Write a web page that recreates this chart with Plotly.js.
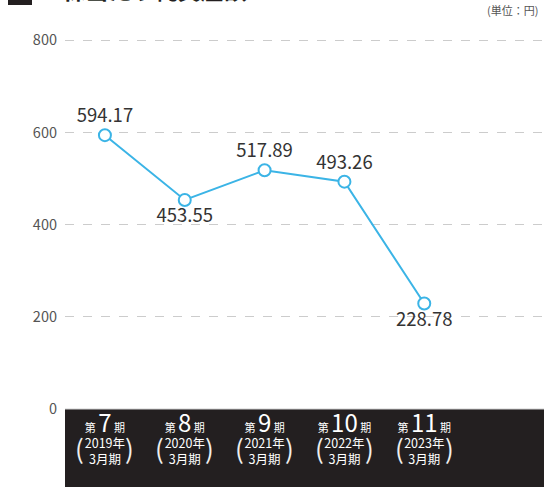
<!DOCTYPE html>
<html><head><meta charset="utf-8">
<script src="https://cdn.plot.ly/plotly-3.0.1.min.js"></script>
<style>body{margin:0;background:#fff}#c{width:544px;height:487px}</style>
</head><body><div id="c"></div>
<script>
const periods = ["7", "8", "9", "10", "11"];
const fiscalYears = ["2019年", "2020年", "2021年", "2022年", "2023年"];
const values = [594.17, 453.55, 517.89, 493.26, 228.78];
const labelPos = ["top center", "bottom center", "top center", "top center", "bottom center"];
const yTicks = [0, 200, 400, 600, 800];

const F = '"Noto Sans CJK JP", "Noto Sans", sans-serif';
const xIdx = periods.map((_, i) => i);
const tickText = periods.map((p, i) =>
  "<span style='font-size:11px'>第 </span><span style='font-size:24px'>" + p + "</span><span style='font-size:11px'> 期</span><br>" + fiscalYears[i] + "<br>3月期");

const W = 544, H = 487, L = 65, T = 38, B = 78;
const YMAX = 805;
const ph = H - T - B;
const y0px = H - B;
const py = y => (y0px - y) / ph;
const px = x => (x - L) / (W - L);

const annotations = [
  {xref:'paper', yref:'paper', x:px(540), y:py(10), xanchor:'right', yanchor:'middle',
   text:'(単位：円)', showarrow:false, font:{family:F, size:11, color:'#555'}},
  {xref:'paper', yref:'paper', x:px(47), y:py(8), xanchor:'left', yanchor:'bottom',
   text:'<b>1株当たり純資産額</b>', showarrow:false, font:{family:F, size:23, color:'#231f20'}}
];
xIdx.forEach(i => {
  annotations.push({xref:'x', yref:'paper', x:i, y:py(447), xanchor:'center', yanchor:'middle',
    xshift:-25, text:'(', showarrow:false, font:{family:F, size:26, color:'#eee'}});
  annotations.push({xref:'x', yref:'paper', x:i, y:py(447), xanchor:'center', yanchor:'middle',
    xshift:25, text:')', showarrow:false, font:{family:F, size:26, color:'#eee'}});
});

const trace = {
  x: xIdx, y: values, type:'scatter', mode:'lines+markers+text',
  text: values.map(v => v.toFixed(2)), textposition: labelPos,
  textfont:{family:F, size:18.5, color:'#333'},
  line:{color:'#3bb4e6', width:2},
  marker:{size:12, color:'#fff', line:{color:'#3bb4e6', width:2}},
  cliponaxis:false, hoverinfo:'skip'
};

const layout = {
  width:W, height:H, margin:{l:L, r:0, t:T, b:B},
  paper_bgcolor:'#fff', plot_bgcolor:'#fff', showlegend:false,
  xaxis:{range:[-0.5, 5.5], tickvals:xIdx, ticktext:tickText, showgrid:false, zeroline:false,
    showline:false, ticks:'', tickfont:{family:F, size:12.5, color:'#fff'}, ticklabelstandoff:9, fixedrange:true},
  yaxis:{range:[0, YMAX], tickvals:yTicks, ticktext:yTicks.map(String), showgrid:true,
    gridcolor:'#cccccc', griddash:'dash', gridwidth:1, zeroline:false, showline:false, ticks:'',
    ticklabelstandoff:7, tickfont:{family:F, size:14.5, color:'#555'}, fixedrange:true},
  shapes:[
    {type:'rect', xref:'paper', yref:'paper', x0:0, x1:1, y0:0, y1:-0.3, fillcolor:'#231f20', line:{width:0}, layer:'below'},
    {type:'line', xref:'paper', yref:'paper', x0:0, x1:1, y0:0, y1:0, line:{color:'#d0d0d0', width:1}},
    {type:'rect', xref:'paper', yref:'paper', x0:px(8), x1:px(32), y0:py(5), y1:py(-20), fillcolor:'#231f20', line:{width:0}}
  ],
  annotations: annotations
};
Plotly.newPlot('c', [trace], layout, {displayModeBar:false, staticPlot:true});
</script></body></html>
